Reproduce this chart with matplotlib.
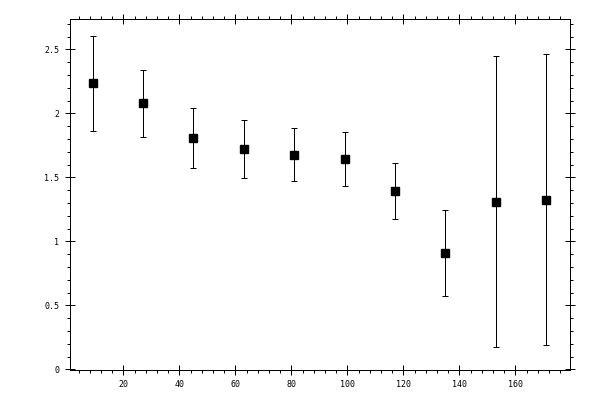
import matplotlib
matplotlib.use("Agg")
import matplotlib.pyplot as plt
from matplotlib.ticker import MultipleLocator, FixedLocator, FixedFormatter

x = [9, 27, 45, 63, 81, 99, 117, 135, 153, 171]
y = [2.236, 2.080, 1.805, 1.719, 1.676, 1.641, 1.393, 0.907, 1.309, 1.325]
yerr = [0.371, 0.261, 0.235, 0.227, 0.207, 0.211, 0.219, 0.335, 1.137, 1.138]

xticks = [20, 40, 60, 80, 100, 120, 140, 160]
xticklabels = ["20", "40", "60", "80", "100", "120", "140", "160"]
yticks = [0, 0.5, 1, 1.5, 2, 2.5]
yticklabels = ["0", "0.5", "1", "1.5", "2", "2.5"]

plt.rcParams['lines.antialiased'] = False
fig = plt.figure(figsize=(6, 4), dpi=100)
ax = fig.add_axes([69.5/600, 30/400, (570-69.5)/600, (370-19)/400])

lw = 0.72
ax.errorbar(x, y, yerr=yerr, fmt='s', color='black', ecolor='black',
            markersize=5.2, elinewidth=lw, capsize=2.2, capthick=lw)

ax.set_xlim(0.75, 179.5)
ax.set_ylim(-0.005, 2.737)

ax.xaxis.set_major_locator(FixedLocator(xticks))
ax.xaxis.set_major_formatter(FixedFormatter(xticklabels))
ax.xaxis.set_minor_locator(MultipleLocator(4))
ax.yaxis.set_major_locator(FixedLocator(yticks))
ax.yaxis.set_major_formatter(FixedFormatter(yticklabels))
ax.yaxis.set_minor_locator(MultipleLocator(0.1))

for sp in ax.spines.values():
    sp.set_linewidth(lw)
    sp.set_color('black')
    sp.set_antialiased(False)

ax.tick_params(which='major', direction='inout', length=6.5, width=lw,
               top=True, right=True, labelsize=6, pad=4)
ax.tick_params(which='minor', direction='out', length=2.5, width=lw,
               top=True, right=True)
for lab in ax.get_xticklabels() + ax.get_yticklabels():
    lab.set_family('DejaVu Sans Mono')

fig.savefig("out.png", dpi=100)
